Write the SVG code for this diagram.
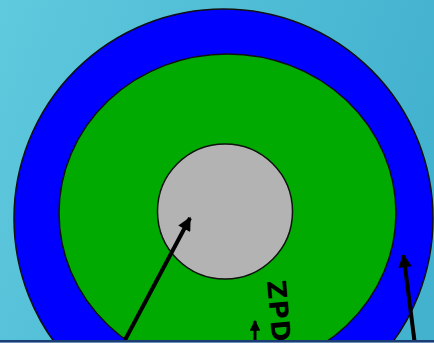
<svg xmlns="http://www.w3.org/2000/svg" width="434" height="343" viewBox="0 0 434 343">
  <defs>
    <linearGradient id="bg" x1="0" y1="0" x2="1" y2="0.3">
      <stop offset="0" stop-color="#5fc9dd"/>
      <stop offset="1" stop-color="#43b2cf"/>
    </linearGradient>
    <marker id="ah" viewBox="0 0 10 10" refX="9" refY="5" markerWidth="3.6" markerHeight="3.4" orient="auto" markerUnits="strokeWidth">
      <path d="M0,0 L10,5 L0,10 Z" fill="#000"/>
    </marker>
    <marker id="ahs" viewBox="0 0 10 10" refX="9" refY="5" markerWidth="3.6" markerHeight="3.6" orient="auto" markerUnits="strokeWidth">
      <path d="M0,0 L10,5 L0,10 Z" fill="#000"/>
    </marker>
  </defs>
  <style>
    .ring { stroke: #111; stroke-width: 1.5; }
    .arrow { stroke: #000; fill: none; }
    .lbl { font-family: "DejaVu Sans", sans-serif; font-weight: bold; font-size: 26px; fill: #000; }
  </style>
  <rect x="0" y="0" width="434" height="343" fill="url(#bg)"/>
  <g id="outer">
    <circle class="ring" cx="223.5" cy="218.5" r="209.5" fill="#0000ff"/>
  </g>
  <g id="middle">
    <ellipse class="ring" cx="227.5" cy="213" rx="168.5" ry="159" fill="#00aa00"/>
  </g>
  <g id="inner">
    <circle class="ring" cx="225" cy="211.5" r="67.5" fill="#b3b3b3"/>
  </g>
  <g id="label">
    <text class="lbl" transform="translate(267,281) rotate(85)" letter-spacing="1">ZPD</text>
  </g>
  <g id="connectors">
    <line class="arrow" x1="125" y1="340" x2="190" y2="218" stroke-width="4" marker-end="url(#ah)"/>
    <line class="arrow" x1="415" y1="345" x2="403.5" y2="255" stroke-width="4" marker-end="url(#ah)"/>
    <line class="arrow" x1="255" y1="345" x2="255" y2="321" stroke-width="3" marker-end="url(#ahs)"/>
  </g>
  <rect x="0" y="340" width="434" height="2" fill="#1c3c74"/>
  <rect x="0" y="342" width="434" height="1" fill="#6a8fb8"/>
</svg>
